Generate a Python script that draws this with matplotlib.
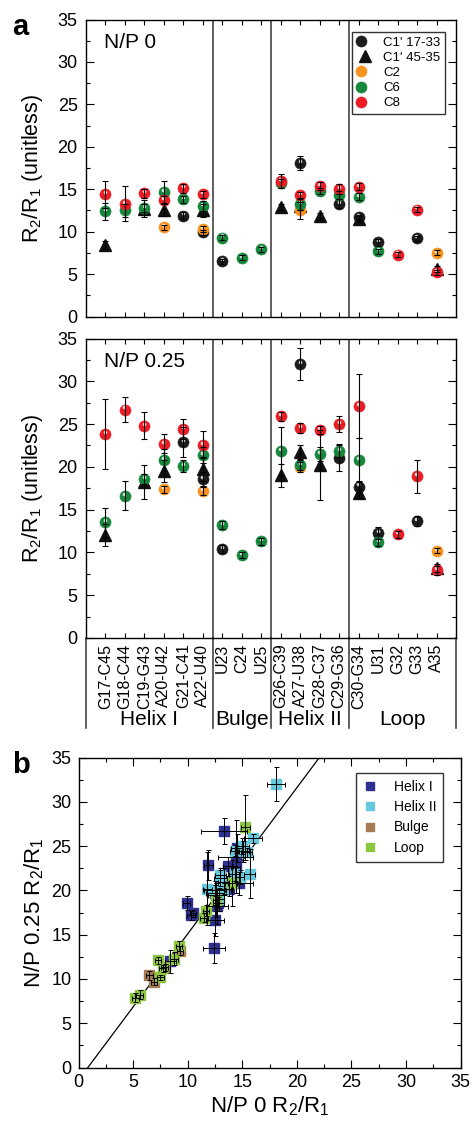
from matplotlib import pyplot as plt
from matplotlib import transforms
from matplotlib.legend_handler import HandlerTuple
import numpy as np

plt.rcParams['font.family'] = ['Liberation Sans', 'DejaVu Sans']
plt.rcParams['mathtext.fontset'] = 'custom'
plt.rcParams['mathtext.rm'] = 'Liberation Sans'
plt.rcParams['mathtext.it'] = 'Liberation Sans:italic'

nan = np.nan

categories = ['G17-C45', 'G18-C44', 'C19-G43', 'A20-U42', 'G21-C41', 'A22-U40',
              'U23', 'C24', 'U25',
              'G26-C39', 'A27-U38', 'G28-C37', 'C29-G36',
              'C30-G34', 'U31', 'G32', 'G33', 'A35']
groups = ['Helix I', 'Bulge', 'Helix II', 'Loop']
group_idx = [0, 0, 0, 0, 0, 0, 1, 1, 1, 2, 2, 2, 2, 3, 3, 3, 3, 3]
legend_order_b = [0, 2, 1, 3]  # Helix I, Helix II, Bulge, Loop
series_names = ["C1' 17-33", "C1' 45-35", 'C2', 'C6', 'C8']

# R2/R1 at N/P 0
np0_c1a = [nan, nan, nan, nan, 11.9, 9.9, 6.5, nan, nan, nan, 18.1, nan, 13.3, 11.7, 8.75, nan, 9.2, nan]
np0_c1b = [8.4, nan, 12.7, 12.6, nan, 12.5, nan, nan, nan, 12.9, 13.0, 11.8, nan, 11.5, nan, nan, nan, 5.6]
np0_c2 = [nan, nan, nan, 10.5, nan, 10.3, nan, nan, nan, nan, 12.5, nan, nan, nan, nan, nan, nan, 7.5]
np0_c6 = [12.4, 12.5, 12.8, 14.7, 13.8, 13.0, 9.3, 6.9, 7.9, 15.7, 13.3, 14.8, 14.3, 14.1, 7.7, nan, nan, nan]
np0_c8 = [14.4, 13.3, 14.5, 13.7, 15.1, 14.4, nan, nan, nan, 16.0, 14.3, 15.4, 15.0, 15.3, nan, 7.3, 12.6, 5.2]

err0_c1a = [0, 0, 0, 0, 0.4, 0.3, 0.3, 0, 0, 0, 0.8, 0, 0.5, 0.3, 0.4, 0, 0.3, 0]
err0_c1b = [0.5, 0, 1.0, 0.7, 0, 0.8, 0, 0, 0, 0.4, 0.5, 0.4, 0, 0.4, 0, 0, 0, 0.3]
err0_c2 = [0, 0, 0, 0.3, 0, 0.4, 0, 0, 0, 0, 1.0, 0, 0, 0, 0, 0, 0, 0.3]
err0_c6 = [1.0, 0.8, 0.5, 1.3, 0.4, 0.6, 0.3, 0.3, 0.3, 0.5, 0.7, 0.4, 0.5, 0.4, 0.3, 0, 0, 0]
err0_c8 = [1.6, 2.1, 0.5, 0.5, 0.5, 0.4, 0, 0, 0, 0.8, 0.4, 0.5, 0.6, 0.4, 0, 0.3, 0.3, 0.3]

# R2/R1 at N/P 0.25
np25_c1a = [nan, nan, nan, nan, 22.9, 18.6, 10.4, nan, nan, nan, 32.0, nan, 21.0, 17.7, 12.3, nan, 13.7, nan]
np25_c1b = [12.0, nan, 18.2, 19.5, nan, 19.7, nan, nan, nan, 19.0, 21.7, 20.2, nan, 16.9, nan, nan, nan, 8.2]
np25_c2 = [nan, nan, nan, 17.4, nan, 17.2, nan, nan, nan, nan, 20.0, nan, nan, nan, nan, nan, nan, 10.2]
np25_c6 = [13.5, 16.6, 18.6, 20.8, 20.1, 21.4, 13.2, 9.7, 11.3, 21.9, 20.2, 21.5, 21.9, 20.8, 11.2, nan, nan, nan]
np25_c8 = [23.8, 26.7, 24.8, 22.7, 24.4, 22.6, nan, nan, nan, 25.9, 24.5, 24.3, 25.0, 27.1, nan, 12.1, 18.9, 7.9]

err25_c1a = [0, 0, 0, 0, 1.7, 0.8, 0.5, 0, 0, 0, 1.9, 0, 1.5, 0.6, 0.7, 0, 0.6, 0]
err25_c1b = [1.3, 0, 2.0, 1.3, 0, 1.4, 0, 0, 0, 1.3, 0.8, 4.1, 0, 0.5, 0, 0, 0, 0.5]
err25_c2 = [0, 0, 0, 0.4, 0, 0.5, 0, 0, 0, 0, 0.6, 0, 0, 0, 0, 0, 0, 0.3]
err25_c6 = [1.7, 1.7, 0.6, 1.3, 0.7, 0.9, 0.5, 0.4, 0.4, 2.8, 0.6, 0.8, 0.8, 2.6, 0.4, 0, 0, 0]
err25_c8 = [4.1, 1.5, 1.6, 1.1, 1.2, 1.6, 0, 0, 0, 0.5, 0.6, 0.5, 0.9, 3.7, 0, 0.4, 1.9, 0.5]

# linear fit shown in panel b
fit_slope = 1.65
fit_intercept = -1.42

series_colors = ['#1c1c1c', '#111111', '#f7931e', '#15883c', '#ec1c24']
series_markers = ['o', '^', 'o', 'o', 'o']
# Helix I, Bulge, Helix II, Loop
group_colors = ['#2e3192', '#a67c52', '#66c8dc', '#8cc63f']

np0 = [np0_c1a, np0_c1b, np0_c2, np0_c6, np0_c8]
np25 = [np25_c1a, np25_c1b, np25_c2, np25_c6, np25_c8]
err0 = [err0_c1a, err0_c1b, err0_c2, err0_c6, err0_c8]
err25 = [err25_c1a, err25_c1b, err25_c2, err25_c6, err25_c8]

W, H = 473, 1129
fig = plt.figure(figsize=(W / 100, H / 100), dpi=100)

def box(l, t, r, b):
    return [l / W, 1 - b / H, (r - l) / W, (b - t) / H]

ax1 = fig.add_axes(box(86, 19.5, 456, 316.5))
ax2 = fig.add_axes(box(86, 338.5, 456, 638))
ax3 = fig.add_axes(box(78.5, 757.5, 460.5, 1067.5))

xs = np.arange(len(categories))
seps = [5.5, 8.5, 12.5]


def draw_panel(ax, vals, errs, tag):
    handles = []
    for k in range(5):
        y = np.array(vals[k], dtype=float)
        col = series_colors[k]
        if series_markers[k] == '^':
            h, = ax.plot(xs, y, '^', ms=9, color=col, ls='none', zorder=3)
            handles.append(h)
        else:
            h, = ax.plot(xs, y, 'o', ms=8, mfc=col, mec=col, mew=0.4, ls='none', zorder=3 + k * 0.1)
            hl = transforms.offset_copy(ax.transData, fig=fig, x=-0.4, y=1.5, units='points')
            h2, = ax.plot(xs, y, 'o', ms=2.6, mfc='white', mec='none', alpha=0.8,
                          ls='none', transform=hl, zorder=3.05 + k * 0.1)
            handles.append((h, h2))
        e = np.array(errs[k], dtype=float)
        ax.errorbar(xs, y, yerr=e, fmt='none', ecolor='black', elinewidth=0.8,
                    capsize=2.2, capthick=0.8, zorder=4)
    for s in seps:
        ax.axvline(s, color='#333333', lw=1.1, zorder=1)
    ax.set_xlim(-1, 18)
    ax.set_ylim(0, 35)
    ax.set_yticks(np.arange(0, 36, 5))
    ax.set_yticks(np.arange(0, 35, 2.5), minor=True)
    ax.set_xticks(xs)
    ax.tick_params(axis='y', which='major', direction='in', length=5.5, width=0.8,
                   right=True, labelsize=13, pad=6)
    ax.tick_params(axis='y', which='minor', direction='in', length=3.2, width=0.8, right=True)
    ax.tick_params(axis='x', direction='in', length=3.6, width=0.8, top=True)
    for sp in ax.spines.values():
        sp.set_linewidth(1.0)
    ax.text(0.049, 0.905, tag, transform=ax.transAxes, fontsize=15, va='baseline')
    return handles


h = draw_panel(ax1, np0, err0, 'N/P 0')
draw_panel(ax2, np25, err25, 'N/P 0.25')
ax1.set_xticklabels([])
ax2.set_xticklabels(categories, rotation=90, fontsize=11.5)
ax2.tick_params(axis='x', pad=4)

leg = ax1.legend(h, series_names, loc='upper right', bbox_to_anchor=(0.97, 0.958),
                 handler_map={tuple: HandlerTuple(ndivide=None, pad=0)},
                 fontsize=9.5, frameon=True, fancybox=False, edgecolor='black',
                 handlelength=1.2, handletextpad=0.8, labelspacing=0.22,
                 borderpad=0.35, borderaxespad=0)
leg.get_frame().set_linewidth(1.0)

# group brackets below the category labels
for s in [-1] + seps + [18]:
    ax2.axvline(s, ymin=-0.3, ymax=0, color='#333333', lw=1.1, clip_on=False)
bounds = [-1] + seps + [18]
for g, name in enumerate(groups):
    ax2.text((bounds[g] + bounds[g + 1]) / 2, -0.273, name, transform=ax2.get_xaxis_transform(),
             ha='center', va='center', fontsize=15)

ylab = r'R$_2$/R$_1$ (unitless)'
fig.text(33 / W, 1 - 168 / H, ylab, rotation=90, ha='center', va='center', fontsize=15.5)
fig.text(33 / W, 1 - 488 / H, ylab, rotation=90, ha='center', va='center', fontsize=15.5)
fig.text(12 / W, 1 - 35 / H, 'a', fontsize=21, fontweight='bold', va='baseline')
fig.text(12 / W, 1 - 773 / H, 'b', fontsize=21, fontweight='bold', va='baseline')

# panel b: N/P 0 vs N/P 0.25, coloured by region
gi = np.array(group_idx)
for g in legend_order_b:
    px, py, ex, ey = [], [], [], []
    for k in range(5):
        a0 = np.array(np0[k], dtype=float)
        a25 = np.array(np25[k], dtype=float)
        ok = (gi == g) & ~np.isnan(a0) & ~np.isnan(a25)
        px += list(a0[ok])
        py += list(a25[ok])
        ex += list(np.array(err0[k])[ok])
        ey += list(np.array(err25[k])[ok])
    ax3.plot(px, py, 's', ms=6.5, color=group_colors[g], ls='none', label=groups[g], zorder=3)
    ax3.errorbar(px, py, xerr=ex, yerr=ey, fmt='none', ecolor='black', elinewidth=0.7,
                 capsize=1.8, capthick=0.7, zorder=4)

fx = np.array([0, 35])
ax3.plot(fx, fit_slope * fx + fit_intercept, color='black', lw=0.9, zorder=2)
ax3.set_xlim(0, 35)
ax3.set_ylim(0, 35)
ax3.set_xticks(np.arange(0, 36, 5))
ax3.set_yticks(np.arange(0, 36, 5))
ax3.set_xticks(np.arange(0, 35, 2.5), minor=True)
ax3.set_yticks(np.arange(0, 35, 2.5), minor=True)
ax3.tick_params(which='major', direction='in', length=5.5, width=0.8, top=True, right=True,
                labelsize=13, pad=5)
ax3.tick_params(which='minor', direction='in', length=3, width=0.8, top=True, right=True)
for sp in ax3.spines.values():
    sp.set_linewidth(1.0)
ax3.set_xlabel(r'N/P 0 R$_2$/R$_1$', fontsize=16, labelpad=2)
ax3.set_ylabel(r'N/P 0.25 R$_2$/R$_1$', fontsize=16, labelpad=4)
leg3 = ax3.legend(loc='upper right', bbox_to_anchor=(0.955, 0.95), fontsize=10,
                  frameon=True, fancybox=False, edgecolor='black', handlelength=1.0,
                  handletextpad=1.2, labelspacing=0.45, borderpad=0.5, borderaxespad=0,
                  markerscale=0.9)
leg3.get_frame().set_linewidth(1.0)

fig.savefig('out.png', dpi=100)
